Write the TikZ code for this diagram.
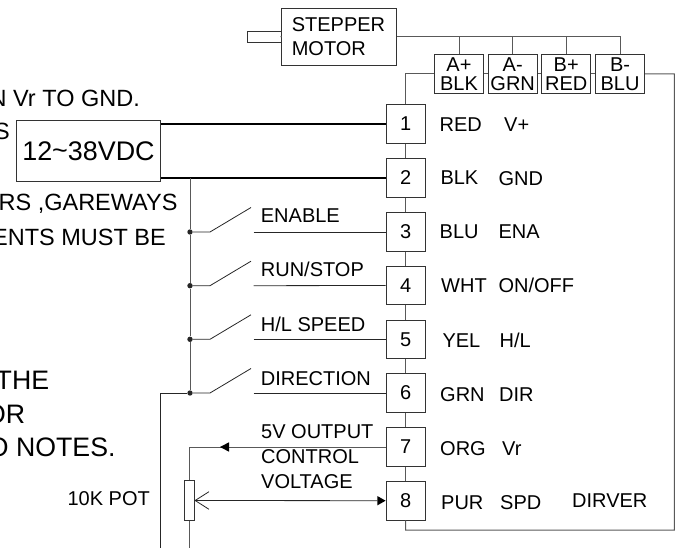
\documentclass[tikz,border=0pt]{standalone}
\usepackage{fontspec}
\setmainfont{Liberation Sans}
\usetikzlibrary{arrows.meta}
\tikzset{
  every node/.style={inner sep=0pt},
  thin box/.style={draw=black!80,line width=0.9pt},
  pinbox/.style={thin box,minimum width=39.3pt,minimum height=38.6pt,font=\fontsize{20}{24}\selectfont},
  connbox/.style={thin box,minimum width=49.3pt,minimum height=39pt,align=center,font=\fontsize{20}{19}\selectfont},
  wire/.style={draw=black!65,line width=1pt},
  thinwire/.style={draw=black!85,line width=0.8pt},
  power/.style={draw=black,line width=1.5pt},
  dot/.style={circle,fill=black!85,minimum size=5.4pt},
  lab/.style={anchor=base west,font=\fontsize{20}{24}\selectfont},
  note/.style={anchor=base east,font=\fontsize{23.5}{28}\selectfont},
  bignote/.style={anchor=base east,font=\fontsize{26.7}{32}\selectfont},
  headtip/.style={fill=black,draw=none}
}
\begin{document}
\begin{tikzpicture}[x=1pt,y=-1pt]
\useasboundingbox (0,0) rectangle (675,548);
\node[note] at (140,106.7) {N Vr TO GND.};
\node[note] at (10,140) {S};
\node[note] at (177.7,210.7) {RS ,GAREWAYS};
\node[note] at (166,245.3) {ENTS MUST BE};
\node[bignote] at (49.3,389.7) {THE};
\node[bignote] at (25.3,423.3) {OR};
\node[bignote] at (115.7,456.3) {O NOTES.};
\node[thin box,minimum width=115.7pt,minimum height=57pt,text width=94pt,align=left,font=\fontsize{20}{24.3}\selectfont] (motor) at (338.8,36.5) {STEPPER\\MOTOR};
\node[thin box,minimum width=33.5pt,minimum height=11.5pt] (shaft) at (264.5,37) {};
\node[connbox] (connA) at (459,73.8) {A+\\BLK};
\node[connbox] (connB) at (512.7,73.8) {A-\\GRN};
\node[connbox] (connC) at (566.2,73.8) {B+\\RED};
\node[connbox] (connD) at (620,73.8) {B-\\BLU};
\node[thin box,minimum width=143.6pt,minimum height=61pt,font=\fontsize{26.9}{32}\selectfont] (supply) at (88.5,151.2) {12\raisebox{1pt}{\char`~}38VDC};
\node[pinbox] (pin1) at (405.7,124) {1};
\node[pinbox] (pin2) at (405.7,178) {2};
\node[pinbox] (pin3) at (405.7,232) {3};
\node[pinbox] (pin4) at (405.7,285.5) {4};
\node[pinbox] (pin5) at (405.7,339.3) {5};
\node[pinbox] (pin6) at (405.7,393) {6};
\node[pinbox] (pin7) at (405.7,447) {7};
\node[pinbox] (pin8) at (405.7,500.7) {8};
\node[dot] (dotena) at (190,232) {};
\node[dot] (dotrun) at (190,285.7) {};
\node[dot] (dothl) at (190,339.3) {};
\node[dot] (dotdir) at (190,393) {};
\node[thin box,minimum width=10pt,minimum height=39.6pt] (pot) at (189.7,500.5) {};
\coordinate (driverne) at (674.3,74);
\coordinate (driverse) at (674.3,530);
\coordinate (driversw) at (405.7,530);
\coordinate (gndend) at (160.5,548);
\coordinate (potend) at (189.7,548);
\coordinate (fivetip) at (220,447);
\coordinate (fivebase) at (229,447);
\coordinate (spdbase) at (377.3,500.7);
\draw[wire] (shaft.east) -- (motor.west);
\draw[wire] (motor.east) -- (connD.north |- motor.east) -- (connD.north);
\draw[wire] (connA.north) -- (connA.north |- motor.east);
\draw[wire] (connB.north) -- (connB.north |- motor.east);
\draw[wire] (connC.north) -- (connC.north |- motor.east);
\draw[wire] (pin1.north) -- (pin1.north |- connA.west) -- (connA.west);
\draw[wire] (connA.east) -- (connB.west);
\draw[wire] (connB.east) -- (connC.west);
\draw[wire] (connC.east) -- (connD.west);
\draw[wire] (connD.east) -- (driverne) -- (driverse) -- (driversw) -- (pin8.south);
\draw[wire] (pin1.south) -- (pin2.north);
\draw[wire] (pin2.south) -- (pin3.north);
\draw[wire] (pin3.south) -- (pin4.north);
\draw[wire] (pin4.south) -- (pin5.north);
\draw[wire] (pin5.south) -- (pin6.north);
\draw[wire] (pin6.south) -- (pin7.north);
\draw[wire] (pin7.south) -- (pin8.north);
\draw[power] (pin1.west -| supply.east) -- (pin1.west);
\draw[power] (pin2.west -| supply.east) -- (pin2.west);
\draw[wire] (dotena |- pin2.west) -- (dotena);
\draw[wire] (dotena) -- (dotrun);
\draw[wire] (dotrun) -- (dothl);
\draw[wire] (dothl) -- (dotdir);
\draw[thinwire] (dotena) -- (210,232) -- (251,207.5);
\draw[thinwire] (dotrun) -- (210,285.7) -- (251,261.2);
\draw[thinwire] (dothl) -- (210,339.3) -- (251,314.8);
\draw[thinwire] (dotdir) -- (210,393) -- (251,368.5);
\draw[thinwire] (253.5,232) -- (pin3.west);
\draw[thinwire] (253.5,285.7) -- (pin4.west);
\draw[thinwire] (253.5,339.3) -- (pin5.west);
\draw[thinwire] (253.5,393) -- (pin6.west);
\draw[thinwire] (dotdir) -- (dotdir -| gndend) -- (gndend);
\draw[wire] (pin7.west) -- (fivetip);
\fill[headtip] (fivetip) -- (229,442.3) -- (229,451.7) -- cycle;
\draw[wire] (fivetip) -- (fivetip -| pot.north) -- (pot.north);
\draw[wire] (pot.south) -- (potend);
\draw[thinwire] (pot.east) -- (spdbase);
\draw[thinwire] (209,491.7) -- (pot.east) -- (209,509.3);
\fill[headtip] (pin8.west) -- (377.3,496) -- (377.3,505.4) -- cycle;
\node[lab] (labena) at (260.7,222.7) {ENABLE};
\node[lab] (labrun) at (260.7,276.5) {RUN/STOP};
\node[lab] (labhl) at (260.7,331.3) {H/L SPEED};
\node[lab] (labdir) at (260.7,385) {DIRECTION};
\node[lab] (labfive) at (261,438.7) {5V OUTPUT};
\node[lab] (labctl) at (261,463.7) {CONTROL};
\node[lab] (labvolt) at (261,488) {VOLTAGE};
\node[lab,anchor=base east] (labpot) at (150,505.7) {10K POT};
\node[lab] at (439.5,131.7) {RED};
\node[lab] at (504,131.7) {V+};
\node[lab] at (440.3,185) {BLK};
\node[lab] at (498.3,186) {GND};
\node[lab] at (439.5,238.3) {BLU};
\node[lab] at (498.3,238.3) {ENA};
\node[lab] at (441,292.7) {WHT};
\node[lab] at (498.3,292.7) {ON/OFF};
\node[lab] at (442.3,347) {YEL};
\node[lab] at (499.5,347) {H/L};
\node[lab] at (440,401) {GRN};
\node[lab] at (499,401) {DIR};
\node[lab] at (440,455) {ORG};
\node[lab] at (502,455) {Vr};
\node[lab] at (441,509.3) {PUR};
\node[lab] at (500,509.3) {SPD};
\node[lab] at (572,507) {DIRVER};
\end{tikzpicture}
\end{document}
